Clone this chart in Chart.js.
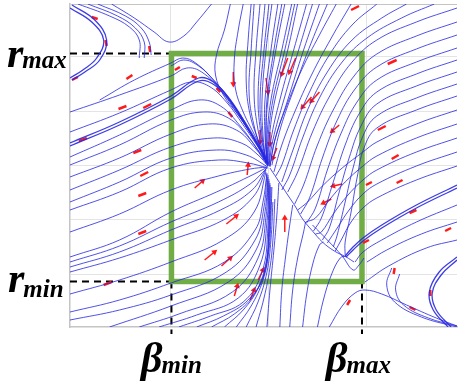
<!DOCTYPE html>
<html>
<head>
<meta charset="utf-8">
<script src="https://cdn.jsdelivr.net/npm/chart.js@4.4.1/dist/chart.umd.min.js"></script>
<style>
  body { margin: 0; background: #fff; }
</style>
</head>
<body>
<canvas id="phase" width="461" height="383"></canvas>
<script>
// axis units: beta along x, r along y (scaled, no tick labels shown)
var gridX = [10.2, 20.1, 30.0];
var gridY = [5.3, 10.7, 16.1, 21.5, 27.0, 32.3];
var betaMin = 10.25, betaMax = 29.5, rMin = 4.55, rMax = 27.35;

// streamlines, grouped by region
var topLines = [
  [[16.2,32.3],[15.6,29.7],[14.8,27.2],[14.7,25.2],[15.5,23.2],[17.0,21.2],[18.7,18.7],[19.8,16.7]],
  [[17.5,32.3],[17.0,29.7],[16.6,26.7],[16.7,23.9],[17.5,21.5],[18.8,18.9],[19.8,16.7]],
  [[18.3,32.3],[18.0,28.7],[17.8,24.7],[18.2,21.2],[19.2,18.2],[19.8,16.5]],
  [[18.6,32.3],[18.3,27.7],[18.1,23.2],[18.7,19.7],[19.6,16.8]],
  [[19.2,32.3],[18.8,27.7],[18.6,23.2],[19.0,19.7],[19.7,16.7]],
  [[19.7,32.3],[19.3,27.7],[19.0,22.7],[19.3,19.2],[19.8,16.5]],
  [[20.1,32.3],[19.6,27.7],[19.2,22.7],[19.4,19.2],[19.8,16.5]],
  [[20.4,32.3],[19.8,27.7],[19.4,22.7],[19.5,19.2],[19.8,16.4]],
  [[21.0,32.3],[20.3,27.7],[19.7,22.7],[19.7,19.2],[19.9,16.4]],
  [[21.4,32.3],[20.6,27.7],[19.9,22.7],[19.8,19.2],[19.9,16.4]],
  [[21.7,32.3],[20.8,27.7],[20.0,22.7],[19.8,19.2],[19.9,16.3]],
  [[22.4,32.3],[21.4,27.7],[20.3,22.7],[19.9,18.7],[20.0,16.2]],
  [[22.7,32.3],[21.7,27.7],[20.5,22.7],[20.0,18.7],[20.0,16.3]],
  [[23.0,32.3],[22.0,27.7],[20.7,22.7],[20.1,18.7],[20.0,16.2]],
  [[23.9,32.3],[22.6,27.7],[21.2,22.7],[20.3,18.7],[20.1,16.1]],
  [[24.5,32.3],[23.1,27.7],[21.6,22.7],[20.5,18.7],[20.1,16.1]],
  [[25.2,32.3],[23.6,27.7],[22.0,22.7],[20.7,18.7],[20.2,16.0]],
  [[26.0,32.3],[24.4,28.5],[22.7,24.0],[21.3,20.0],[20.4,16.2]]
];

var rightLines = [
  [[26.9,32.3],[25.2,29.2],[23.4,25.7],[21.8,21.9],[20.7,18.7],[20.2,16.1]],
  [[28.4,32.3],[26.4,28.9],[24.4,25.2],[22.7,21.5],[21.4,18.2],[20.6,15.5]],
  [[31.0,32.3],[28.5,30.2],[26.2,27.2],[24.2,23.5],[22.6,19.7],[21.4,16.2],[20.8,15.1]],
  [[34.0,32.3],[31.5,30.9],[28.5,28.7],[26.0,25.5],[24.0,21.7],[22.6,17.9],[21.4,14.5]],
  [[36.8,32.3],[33.5,30.9],[30.0,28.9],[27.5,26.5],[25.2,22.9],[23.5,18.9],[22.2,15.2],[21.4,13.7]],
  [[39.1,31.9],[35.0,30.5],[31.0,28.7],[28.5,26.5],[26.3,23.2],[24.5,19.5],[23.0,15.5],[22.0,13.5]],
  [[39.1,30.5],[35.0,29.1],[31.0,27.3],[28.7,25.1],[26.7,21.9],[25.0,18.2],[23.6,14.2],[22.7,12.3]],
  [[39.1,29.2],[35.0,27.8],[31.0,26.0],[28.8,23.8],[27.0,20.7],[25.5,16.9],[24.2,12.9],[23.3,11.3]],
  [[39.1,27.9],[35.0,26.5],[31.0,24.7],[29.0,22.5],[27.4,19.4],[26.0,15.7],[24.8,11.9],[23.9,10.4]],
  [[39.1,26.7],[35.0,25.3],[31.0,23.5],[29.2,21.3],[27.8,18.2],[26.6,14.5],[25.4,10.9],[24.6,9.6]],
  [[39.1,25.5],[35.0,24.1],[31.0,22.3],[29.4,20.1],[28.2,16.9],[27.2,13.5],[26.2,9.9],[25.5,8.7]],
  [[39.1,24.3],[35.0,22.9],[31.0,21.1],[29.6,19.1],[28.6,15.9],[27.8,12.5],[27.0,9.2],[26.6,8.0]],
  [[39.1,23.1],[35.0,21.7],[31.0,19.9],[29.7,17.9],[29.0,14.9],[28.4,11.5],[27.8,8.5],[27.8,7.2]],
  [[39.1,21.7],[35.0,20.3],[31.0,18.5],[29.6,17.5],[27.5,15.9],[25.5,14.1],[24.0,12.5],[23.0,11.7]],
  [[39.1,20.3],[35.0,18.9],[31.0,17.1],[29.6,16.1],[27.8,14.5],[26.2,12.7],[24.8,10.9],[23.8,10.5]],
  [[39.1,18.9],[35.0,17.5],[31.0,15.7],[29.6,14.7],[28.0,13.1],[26.6,11.3],[25.4,9.5],[24.8,9.3]],
  [[39.1,17.5],[35.0,16.1],[31.0,14.3],[29.6,13.3],[28.2,11.7],[27.0,9.9],[26.0,8.4]],
  [[39.1,16.1],[35.0,14.7],[31.0,12.9],[29.6,11.9],[28.4,10.5],[27.4,8.7],[26.8,7.6]],
  [[39.1,12.2],[35.0,10.5],[31.5,8.7],[29.6,7.5],[28.8,6.5]],
  [[39.1,10.5],[35.5,9.3],[32.0,7.7],[30.0,6.5]],
  [[39.1,8.7],[36.0,7.9],[32.2,6.1],[29.8,4.5]],
  [[24.5,10.2],[26.0,8.7],[27.5,7.1],[28.6,5.7],[29.2,6.2],[29.7,6.9]]
];

var leftLines = [
  [[3.0,22.7],[6.5,24.7],[10.2,26.4],[11.4,26.9],[12.7,26.4],[14.5,24.7],[16.5,22.2],[18.5,19.2],[19.8,16.7]],
  [[0,21.5],[5.0,23.2],[10.2,25.1],[11.8,25.9],[13.3,25.5],[15.2,23.7],[17.0,21.2],[18.8,18.5],[19.9,16.6]],
  [[0,19.5],[5.0,21.4],[10.2,23.7],[12.2,24.5],[14.0,24.1],[15.8,22.5],[17.5,20.2],[19.0,18.0],[20.0,16.4]],
  [[0,17.0],[5.0,19.2],[10.2,21.7],[13.0,22.7],[15.2,22.1],[17.2,20.1],[19.0,17.7],[20.0,16.3]],
  [[0,16.2],[5.0,18.2],[10.2,20.7],[13.5,21.5],[16.0,20.9],[18.0,19.0],[19.3,17.2],[20.0,16.2]],
  [[0,15.0],[5.0,16.9],[10.2,19.3],[14.0,20.3],[16.8,19.7],[18.7,17.9],[20.0,16.1]],
  [[0,13.7],[5.0,15.7],[10.2,18.0],[14.5,18.9],[17.3,18.4],[19.0,17.2],[20.0,16.1]],
  [[0,12.5],[5.0,14.5],[10.2,16.9],[14.8,17.7],[17.8,17.2],[20.0,16.0]],
  [[0,11.7],[5.0,13.5],[10.2,15.9],[15.0,16.7],[18.0,16.4],[20.0,15.9]],
  [[0,9.5],[5.0,11.3],[10.2,13.7],[15.0,15.1],[18.2,15.8],[19.9,16.0]],
  [[0,7.0],[5.0,8.7],[10.2,11.5],[14.8,13.5],[18.0,15.0],[19.8,15.9]],
  [[0,6.5],[5.0,8.1],[10.2,10.5],[15.0,12.5],[18.2,14.3],[19.9,15.9]],
  [[0,6.0],[5.0,7.5],[10.2,9.7],[15.2,11.7],[18.4,13.7],[19.8,15.8]],
  [[0,5.5],[5.0,6.9],[10.2,8.7],[15.5,10.7],[18.5,13.0],[19.8,15.7]],
  [[0,3.3],[5.0,4.7],[10.2,6.5],[15.5,8.7],[18.6,11.5],[19.8,15.5]],
  [[0,1.5],[5.0,2.7],[10.2,4.4],[15.6,6.5],[18.7,9.7],[19.5,12.5],[19.9,15.4]],
  [[0,0.7],[5.0,1.7],[10.2,3.2],[15.8,5.5],[18.7,8.7],[19.6,12.0],[19.9,15.3]]
];

var bottomLines = [
  [[4.0,0],[10.2,2.1],[16.0,4.5],[18.8,7.7],[19.7,11.5],[20.0,15.2]],
  [[7.0,0],[11.0,1.3],[16.4,3.5],[19.0,6.9],[19.8,11.0],[20.0,15.0]],
  [[9.0,0],[12.8,1.2],[17.0,2.9],[19.2,6.2],[19.9,10.5],[20.1,14.8]],
  [[11.0,0],[14.2,1.1],[17.5,2.5],[19.4,5.5],[20.0,10.0],[20.1,14.6]],
  [[12.8,0],[15.5,1.1],[18.0,2.7],[19.6,5.2],[20.1,9.5],[20.2,14.4]],
  [[14.3,0],[16.6,1.3],[18.5,3.1],[19.7,5.7],[20.1,10.2],[20.2,14.2]],
  [[15.6,0],[17.5,1.7],[19.0,3.9],[19.9,6.9],[20.2,10.2],[20.3,14.0]],
  [[16.8,0],[18.3,2.1],[19.5,4.7],[20.1,7.7],[20.3,11.0],[20.4,14.0]],
  [[17.8,0],[19.0,2.5],[19.9,5.5],[20.3,8.7],[20.5,12.5]],
  [[18.8,0],[19.6,2.9],[20.2,5.9],[20.5,8.7],[20.7,12.8]],
  [[19.9,0],[20.2,3.7],[20.6,7.7],[20.9,11.2],[21.1,14.4]],
  [[21.2,0],[21.4,3.7],[21.8,7.2],[22.2,10.2],[22.5,12.2]],
  [[22.2,0],[22.5,3.7],[23.0,6.9],[23.6,9.5],[23.8,10.5]],
  [[23.5,0],[23.9,3.2],[24.5,6.2],[25.2,8.2],[25.6,8.5]],
  [[25.0,0],[25.6,2.7],[26.4,5.2],[27.3,6.9],[27.9,7.1]]
];

var cornerLines = [
  [[0.8,32.3],[4.0,31.1],[6.0,30.0],[7.0,28.7],[7.0,26.9]],
  [[1.8,32.3],[4.8,31.1],[6.6,29.9],[7.5,28.5],[7.5,26.9]],
  [[2.8,32.3],[5.6,31.1],[7.2,29.9],[8.0,28.5],[8.2,27.2]],
  [[4.2,32.3],[6.5,30.9],[8.5,29.5],[10.0,28.5],[11.5,29.1],[12.8,30.5],[14.3,32.3]],
  [[10.2,26.1],[11.5,26.7],[13.0,26.1],[14.5,24.7],[16.2,22.7],[17.8,20.0],[19.2,18.0],[20.0,16.7]],
  [[28.7,6.5],[27.9,7.0],[26.7,7.6],[25.5,8.5],[24.5,9.6],[23.5,10.8],[22.8,12.0],[22.0,13.2],[21.2,14.4],[20.2,15.9]],
  [[26.2,0],[27.5,2.1],[28.8,3.4],[29.8,3.7],[31.5,3.3],[34.0,2.2],[37.0,0.9],[39.1,0.1]],
  [[32.5,5.9],[32.0,4.2],[32.8,2.5],[35.5,1.0],[39.1,0]],
  [[33.3,5.3],[32.9,3.7],[33.7,2.2],[36.2,0.9],[39.1,0.1]]
];

// doubled / heavier streamlines
var thickLines = [
  [[0.2,32.2],[2.5,30.7],[3.7,28.7],[3.0,26.7],[1.5,25.5],[0.2,24.7]],
  [[0,31.9],[2.2,30.5],[3.4,28.7],[2.7,26.9],[1.3,25.7],[0,24.9]],
  [[0,18.4],[5.0,20.5],[10.2,23.1],[13.0,24.9],[14.5,24.5],[16.2,22.7],[18.0,19.9],[20.0,16.4]],
  [[0,18.1],[5.0,20.2],[10.2,22.8],[13.0,24.6],[14.6,24.2],[16.3,22.4],[18.1,19.6],[20.0,16.3]],
  [[39.1,14.2],[35.0,12.2],[31.5,10.2],[29.6,8.9],[28.5,7.9],[27.8,7.1]],
  [[39.1,13.9],[35.0,11.9],[31.5,9.9],[29.6,8.6],[28.6,7.7],[27.9,7.0]],
  [[39.1,7.0],[37.3,5.5],[36.3,3.5],[36.7,1.7],[38.2,0]],
  [[39.1,6.7],[37.5,5.2],[36.6,3.4],[37.0,1.7],[38.5,0]]
];

// flow arrows: tail -> head
var arrows = [
  [16.5,25.5,16.5,24.3],[19.8,24.9,20.0,23.5],[22.0,26.9,21.4,25.3],[22.8,26.9,22.2,25.5],
  [24.4,23.0,23.5,22.0],[25.2,23.5,24.4,22.6],[27.2,20.2,26.5,19.6],[19.2,19.7,19.2,18.5],
  [20.2,19.5,20.2,18.3],[20.9,17.9,20.5,16.9],[17.9,15.2,18.0,16.2],[12.6,13.9,13.4,14.6],
  [15.8,10.3,16.8,11.1],[13.6,6.7,14.6,7.5],[15.3,6.1,16.2,6.9],[19.0,4.7,19.5,5.7],
  [16.6,3.1,16.9,4.1],[18.2,2.7,18.6,3.7],[21.7,9.5,21.7,10.9],[27.5,14.3,26.6,14.1],
  [26.4,12.8,25.6,12.4]
];

// short red direction marks on the streamlines
var marks = [
  [0.9,18.6,1.7,18.9],[4.9,21.8,5.7,22.1],[7.4,21.9,8.2,22.3],[6.4,17.4,7.2,17.7],
  [7.1,15.1,7.9,15.5],[6.9,13.1,7.7,13.4],[6.9,9.3,7.7,9.6],[3.4,4.2,4.2,4.5],
  [2.2,31.0,2.8,30.8],[3.6,28.7,3.7,28.1],[0.2,24.7,0.8,25.0],[5.7,24.8,6.3,25.2],
  [8.0,28.1,8.1,27.5],[29.2,32.1,28.4,31.7],[33.0,26.7,32.1,26.3],[31.9,20.1,31.1,19.7],
  [33.2,17.2,32.5,16.8],[30.5,14.5,29.9,14.2],[33.6,14.7,33.0,14.4],[35.0,11.7,34.3,11.4],
  [30.2,8.7,29.6,8.4],[38.5,9.9,37.9,9.6],[32.8,5.9,32.7,5.3],[36.4,3.7,36.4,3.1],
  [34.3,2.0,34.9,1.7],[28.0,2.2,28.3,2.7],[10.6,25.7,11.1,26.0],[12.3,25.1,12.8,24.9],
  [14.8,23.9,15.2,23.5],[16.0,21.5,16.4,21.0]
];

var BLUE = 'rgba(40,40,225,0.9)';
var RED = '#ff1a1a';

function toXY(pts) {
  return pts.map(function (p) { return { x: p[0], y: p[1] }; });
}

function streamSet(pts, width) {
  return {
    data: toXY(pts), showLine: true, borderColor: BLUE, borderWidth: width,
    pointRadius: 0, tension: 0.4, fill: false
  };
}

var datasets = [];
[topLines, rightLines, leftLines, bottomLines, cornerLines].forEach(function (group) {
  group.forEach(function (l) { datasets.push(streamSet(l, 0.9)); });
});
thickLines.forEach(function (l) { datasets.push(streamSet(l, 1.3)); });

marks.forEach(function (m) {
  datasets.push({
    data: [{ x: m[0], y: m[1] }, { x: m[2], y: m[3] }],
    showLine: true, borderColor: RED, borderWidth: 2.5, pointRadius: 0
  });
});

arrows.forEach(function (a) {
  // both axes run at the same pixels per unit, so the angle can come from the data
  var ang = Math.atan2(a[2] - a[0], a[3] - a[1]) * 180 / Math.PI;
  datasets.push({
    data: [{ x: a[0], y: a[1] }, { x: a[2], y: a[3] }],
    showLine: true, borderColor: RED, borderWidth: 1.5,
    pointRadius: [0, 3.5], pointStyle: 'triangle', pointRotation: [0, ang],
    pointBackgroundColor: RED, pointBorderColor: RED, pointBorderWidth: 0
  });
});

// operating box
datasets.push({
  data: toXY([[betaMin, rMax], [betaMax, rMax], [betaMax, rMin], [betaMin, rMin], [betaMin, rMax]]),
  showLine: true, borderColor: '#70ad47', borderWidth: 5.5, pointRadius: 0,
  borderJoinStyle: 'miter', borderCapStyle: 'square', tension: 0
});

// dashed guides to the labels
[
  [[0, rMax], [10.0, rMax]],
  [[0, rMin], [10.0, rMin]],
  [[betaMin, rMin], [betaMin, -0.7]],
  [[betaMax, rMin], [betaMax, -0.7]]
].forEach(function (g) {
  datasets.push({
    data: toXY(g), showLine: true, borderColor: '#000', borderWidth: 2,
    borderDash: [7, 5], pointRadius: 0, clip: false, tension: 0
  });
});

var labelPlugin = {
  id: 'symbolLabels',
  afterDraw: function (chart) {
    var ctx = chart.ctx;
    function sym(main, sub, x, y, dy) {
      ctx.font = 'italic bold 42px "Liberation Serif"';
      ctx.fillText(main, x, y);
      var w = ctx.measureText(main).width;
      ctx.font = 'italic bold 25px "Liberation Serif"';
      ctx.fillText(sub, x + w - 1, y + dy);
    }
    ctx.save();
    ctx.fillStyle = '#000';
    ctx.textBaseline = 'alphabetic';
    sym('r', 'max', 7, 67, 1);
    sym('r', 'min', 8, 292, 5);
    sym('\u03b2', 'min', 141, 372, 1);
    sym('\u03b2', 'max', 326, 372, 1);
    ctx.restore();
  }
};

new Chart(document.getElementById('phase'), {
  type: 'scatter',
  data: { datasets: datasets },
  options: {
    responsive: false,
    animation: false,
    layout: { padding: { left: 70, top: 4, right: 0, bottom: 56 } },
    plugins: { legend: { display: false }, tooltip: { enabled: false } },
    scales: {
      x: {
        min: 0, max: 39.1,
        afterBuildTicks: function (s) { s.ticks = gridX.map(function (v) { return { value: v }; }); },
        ticks: { display: false },
        grid: { color: '#e4e4e4', drawTicks: false },
        border: { color: '#c4c4c4', width: 1.5 }
      },
      y: {
        min: 0, max: 32.3,
        afterBuildTicks: function (s) { s.ticks = gridY.map(function (v) { return { value: v }; }); },
        ticks: { display: false },
        grid: { color: function (c) { return c.tick && c.tick.value === 32.3 ? '#c4c4c4' : '#e4e4e4'; }, drawTicks: false },
        border: { color: '#c4c4c4', width: 1.5 }
      }
    }
  },
  plugins: [labelPlugin]
});
</script>
</body>
</html>
